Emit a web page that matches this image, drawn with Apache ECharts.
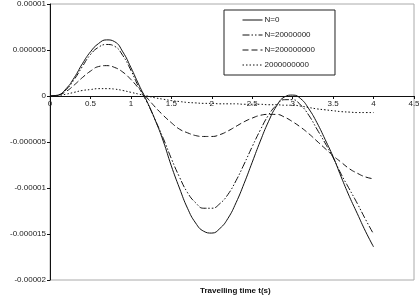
<!DOCTYPE html>
<html>
<head>
<meta charset="utf-8">
<script src="https://cdn.jsdelivr.net/npm/echarts@6/dist/echarts.min.js"></script>
<style>
  html, body { margin: 0; padding: 0; background: #fff; }
  #chart { width: 419px; height: 296px; }
</style>
</head>
<body>
<div id="chart"></div>
<script>
var chart = echarts.init(document.getElementById('chart'));
var option;

// time in seconds
const times = [0, 0.1, 0.2, 0.3, 0.4, 0.5, 0.6, 0.7, 0.8, 0.9, 1.0,
  1.1, 1.2, 1.3, 1.4, 1.5, 1.6, 1.7, 1.8, 1.9, 2.0,
  2.1, 2.2, 2.3, 2.4, 2.5, 2.6, 2.7, 2.8, 2.9, 3.0,
  3.1, 3.2, 3.3, 3.4, 3.5, 3.6, 3.7, 3.8, 3.9, 4.0];

// deflection, in units of 1e-6
const n0 = [0, 0.1, 0.8, 2.0, 3.5, 4.8, 5.7, 6.1, 5.9, 4.8, 3.1,
  1.2, -0.6, -2.6, -4.9, -7.6, -10.0, -12.2, -13.8, -14.7, -14.9,
  -14.4, -13.3, -11.6, -9.5, -7.2, -4.9, -2.8, -1.1, -0.1, 0.1,
  -0.3, -1.4, -2.9, -4.7, -6.6, -8.8, -10.9, -12.8, -14.7, -16.4];
const n2e7 = [0, 0.1, 0.7, 1.8, 3.2, 4.5, 5.3, 5.6, 5.4, 4.4, 2.8,
  0.9, -0.7, -2.6, -4.6, -6.8, -8.8, -10.5, -11.6, -12.2, -12.2,
  -11.7, -10.7, -9.2, -7.4, -5.5, -3.7, -2.1, -1.0, -0.4, -0.4,
  -1.0, -2.1, -3.6, -5.1, -6.7, -8.5, -10.1, -11.7, -13.4, -15.0];
const n2e8 = [0, 0.1, 0.5, 1.2, 2.0, 2.7, 3.2, 3.3, 3.1, 2.6, 1.8,
  0.8, -0.2, -1.2, -2.1, -2.9, -3.6, -4.0, -4.3, -4.4, -4.4,
  -4.2, -3.8, -3.3, -2.8, -2.4, -2.1, -2.0, -2.0, -2.3, -2.8,
  -3.4, -4.1, -4.9, -5.7, -6.5, -7.2, -7.9, -8.4, -8.8, -9.0];
const n2e9 = [0, 0.05, 0.2, 0.4, 0.6, 0.7, 0.8, 0.8, 0.75, 0.6, 0.4,
  0.2, 0, -0.2, -0.35, -0.5, -0.6, -0.7, -0.75, -0.8, -0.8,
  -0.85, -0.85, -0.85, -0.9, -0.9, -0.9, -0.95, -0.95, -1.0, -1.0,
  -1.1, -1.25, -1.4, -1.5, -1.6, -1.7, -1.75, -1.8, -1.8, -1.8];

const seriesNames = ['N=0', 'N=20000000', 'N=200000000', '2000000000'];
const yTickLabels = ['-0.00002', '-0.000015', '-0.00001', '-0.000005', '0', '0.000005', '0.00001'];

function pairs(vals) {
  return times.map(function (t, i) { return [t, vals[i]]; });
}

const font = 'Liberation Sans, Arial, sans-serif';
const yMin = -20, yMax = 10;
const gridTop = 4, gridBottom = 16;
// lift the x axis (line, ticks and labels) up to y = 0
const zeroOffset = -(0 - yMin) / (yMax - yMin) * (296 - gridTop - gridBottom);

function makeLine(name, vals, type) {
  return {
    name: name,
    type: 'line',
    data: pairs(vals),
    smooth: true,
    symbol: 'none',
    lineStyle: { color: '#111', width: 1, type: type },
    itemStyle: { color: '#111' }
  };
}

option = {
  animation: false,
  backgroundColor: '#fff',
  grid: {
    left: 50, right: 5, top: gridTop, bottom: gridBottom,
    outerBoundsMode: 'none',
    containLabel: false,
    show: true, borderColor: '#aaa', borderWidth: 1
  },
  legend: {
    orient: 'vertical',
    left: 224, top: 10,
    padding: [6, 20, 6, 18],
    itemGap: 7,
    itemWidth: 20,
    itemHeight: 9,
    backgroundColor: '#fff',
    borderColor: '#222',
    borderWidth: 1,
    borderRadius: 0,
    itemStyle: { opacity: 0 },
    lineStyle: { width: 1 },
    textStyle: { fontFamily: font, fontSize: 8, color: '#222', padding: [0, 0, 0, -3] },
    data: seriesNames
  },
  xAxis: {
    type: 'value',
    min: 0, max: 4.5, interval: 0.5,
    offset: zeroOffset,
    axisLine: { onZero: false, lineStyle: { color: '#111', width: 1 } },
    axisTick: { show: true, length: 3, lineStyle: { color: '#111' } },
    axisLabel: { fontFamily: font, fontSize: 8, color: '#222', margin: 4 },
    splitLine: { show: false }
  },
  yAxis: {
    type: 'value',
    min: yMin, max: yMax, interval: 5,
    name: 'Dynamic Deflection',
    nameLocation: 'middle',
    nameRotate: 90,
    nameGap: 41,
    nameTextStyle: { fontFamily: font, fontSize: 8, fontWeight: 'bold', color: '#111' },
    axisLine: { show: true, onZero: false, lineStyle: { color: '#111', width: 1 } },
    axisTick: { show: true, length: 3, lineStyle: { color: '#111' } },
    axisLabel: {
      fontFamily: font, fontSize: 8, color: '#222', margin: 4,
      formatter: function (v) { return yTickLabels[Math.round(v / 5) + 4]; }
    },
    splitLine: { show: false }
  },
  graphic: [{
    type: 'text',
    left: 200, top: 287,
    style: {
      text: 'Travelling time t(s)',
      font: 'bold 8px ' + font,
      fill: '#111'
    }
  }],
  series: [
    makeLine(seriesNames[0], n0, 'solid'),
    makeLine(seriesNames[1], n2e7, [7, 2, 1.5, 2, 1.5, 2]),
    makeLine(seriesNames[2], n2e8, [6, 3]),
    makeLine(seriesNames[3], n2e9, [1.5, 2])
  ]
};

option && chart.setOption(option);
</script>
</body>
</html>
